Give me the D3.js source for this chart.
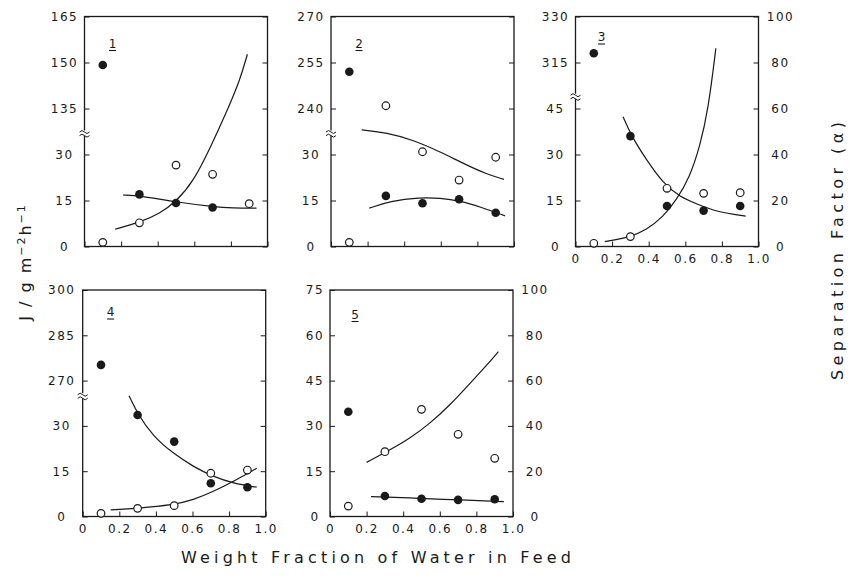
<!DOCTYPE html>
<html lang="en">
  <head>
    <meta charset="utf-8" />
    <title>Flux and separation factor vs. weight fraction of water in feed</title>
    <script src="https://cdn.jsdelivr.net/npm/d3@7"></script>
    <style>
      body {
        margin: 0;
        background: #fff;
      }
      svg {
        display: block;
      }
      .tick-label {
        font-family: "DejaVu Sans", sans-serif;
        font-size: 12px;
        letter-spacing: 1.5px;
        fill: #1a1a1a;
      }
      .title {
        font-family: "DejaVu Sans", sans-serif;
        font-size: 16px;
        fill: #1a1a1a;
      }
    </style>
  </head>
  <body>
    <script>
      var w = 851;
      var h = 582;

      // shared axes
      var xTicks = [0, 0.2, 0.4, 0.6, 0.8, 1.0];
      var waterFraction = [0.1, 0.3, 0.5, 0.7, 0.9];
      var alphaTicks = [0, 20, 40, 60, 80, 100];

      // panel 1 (filled = J, open = separation factor)
      var fluxTicks1 = [0, 15, 30, 135, 150, 165];
      var fluxBreak1 = 37;
      var flux1 = [149.2, 17.0, 14.2, 12.7, null];
      var alpha1 = [1.8, 10.3, 35.4, 31.4, 18.6];
      var fluxCurve1 = [[0.21, 16.8], [0.3, 16.6], [0.5, 14.5], [0.7, 13.0], [0.81, 12.5], [0.94, 12.5]];
      var alphaCurve1 = [[0.167, 7.5], [0.3, 10.4], [0.413, 14.4], [0.5, 19.5], [0.595, 28.2], [0.686, 42.7], [0.777, 58.6], [0.85, 72.4], [0.89, 83.6]];

      // panel 2
      var fluxTicks2 = [0, 15, 30, 240, 255, 270];
      var fluxBreak2 = 37;
      var flux2 = [252, 16.5, 14.1, 15.4, 11.0];
      var alpha2 = [1.8, 61.2, 41.2, 28.9, 38.8];
      var fluxCurve2 = [[0.209, 12.5], [0.322, 14.8], [0.486, 16.0], [0.596, 15.8], [0.705, 14.9], [0.814, 13.0], [0.951, 10.0]];
      var alphaCurve2 = [[0.168, 50.7], [0.304, 49.5], [0.45, 46.3], [0.596, 41.2], [0.741, 35.4], [0.851, 31.5], [0.945, 29.2]];

      // panel 3
      var fluxTicks3 = [0, 15, 30, 45, 315, 330];
      var fluxBreak3 = 49;
      var flux3 = [318, 36.0, 13.2, 11.7, 13.2];
      var alpha3 = [1.4, 4.3, 25.3, 23.1, 23.4];
      var fluxCurve3 = [[0.26, 42.3], [0.306, 36.0], [0.388, 28.2], [0.479, 20.6], [0.57, 16.2], [0.661, 13.9], [0.77, 11.3], [0.93, 9.9]];
      var alphaCurve3 = [[0.16, 2.1], [0.293, 4.0], [0.388, 7.2], [0.479, 13.0], [0.552, 20.2], [0.625, 30.3], [0.679, 43.4], [0.725, 59.3], [0.767, 86.2]];

      // panel 4
      var fluxTicks4 = [0, 15, 30, 270, 285, 300];
      var fluxBreak4 = 40;
      var flux4 = [275.2, 33.6, 24.8, 11.0, 9.7];
      var alpha4 = [1.4, 3.6, 4.8, 19.1, 20.5];
      var fluxCurve4 = [[0.253, 40.0], [0.298, 34.2], [0.386, 26.4], [0.495, 20.9], [0.604, 16.5], [0.714, 13.2], [0.823, 11.0], [0.951, 9.7]];
      var alphaCurve4 = [[0.153, 2.9], [0.298, 3.6], [0.495, 5.1], [0.604, 7.3], [0.714, 11.0], [0.823, 15.4], [0.951, 21.3]];

      // panel 5 (no break)
      var fluxTicks5 = [0, 15, 30, 45, 60, 75];
      var fluxBreak5 = null;
      var flux5 = [34.7, 6.8, 5.9, 5.5, 5.7];
      var alpha5 = [4.6, 28.6, 47.3, 36.3, 25.7];
      var fluxCurve5 = [[0.224, 6.6], [0.5, 6.0], [0.7, 5.5], [0.95, 4.9]];
      var alphaCurve5 = [[0.2, 23.9], [0.328, 29.4], [0.437, 34.5], [0.546, 41.1], [0.656, 49.2], [0.765, 58.8], [0.874, 68.4], [0.92, 72.8]];

      var panelW = 183;

      var panels = [
        { tag: "1", left: 84.5, top: 16.5, height: 230, ticks: fluxTicks1, brk: fluxBreak1, flux: flux1, alpha: alpha1,
          fluxCurve: fluxCurve1, alphaCurve: alphaCurve1, xLabels: false, rightLabels: false, labelX: -20, tagX: 28, tagY: 31 },
        { tag: "2", left: 331, top: 16.5, height: 230, ticks: fluxTicks2, brk: fluxBreak2, flux: flux2, alpha: alpha2,
          fluxCurve: fluxCurve2, alphaCurve: alphaCurve2, xLabels: false, rightLabels: false, labelX: -20, tagX: 28, tagY: 31 },
        { tag: "3", left: 575.5, top: 16.5, height: 230, ticks: fluxTicks3, brk: fluxBreak3, flux: flux3, alpha: alpha3,
          fluxCurve: fluxCurve3, alphaCurve: alphaCurve3, xLabels: true, rightLabels: true, labelX: -20, tagX: 26, tagY: 24.5 },
        { tag: "4", left: 82.7, top: 290, height: 226.5, ticks: fluxTicks4, brk: fluxBreak4, flux: flux4, alpha: alpha4,
          fluxCurve: fluxCurve4, alphaCurve: alphaCurve4, xLabels: true, rightLabels: false, labelX: -21, tagX: 28, tagY: 26 },
        { tag: "5", left: 330, top: 290, height: 226.5, ticks: fluxTicks5, brk: fluxBreak5, flux: flux5, alpha: alpha5,
          fluxCurve: fluxCurve5, alphaCurve: alphaCurve5, xLabels: true, rightLabels: true, labelX: -15, tagX: 25, tagY: 28.5 }
      ];

      var svg = d3.select("body").append("svg").attr("width", w).attr("height", h);
      svg.append("rect").attr("width", w).attr("height", h).attr("fill", "#fff");

      // broken flux axis: equal spacing per tick, gap placed at the break value
      function fluxScale(ticks, brk, ph) {
        var step = ticks[1] - ticks[0];
        var span = step * (ticks.length - 1);
        var maxV = ticks[ticks.length - 1];
        var base = d3.scaleLinear().domain([0, span]).range([ph, 0]);
        if (brk === null) {
          return d3.scaleLinear().domain([0, maxV]).range([ph, 0]);
        }
        var hi = maxV - (span - brk);
        return d3.scaleLinear().domain([0, brk, hi, maxV]).range([ph, base(brk), base(brk), 0]);
      }

      var fmtX = function (d) {
        return d === 0 ? "0" : d3.format(".1f")(d);
      };

      panels.forEach(function (p) {
        var g = svg.append("g").attr("transform", "translate(" + p.left + "," + p.top + ")");
        var x = d3.scaleLinear().domain([0, 1]).range([0, panelW]);
        var yJ = fluxScale(p.ticks, p.brk, p.height);
        var yA = d3.scaleLinear().domain([0, 100]).range([p.height, 0]);

        //left axis
        var gl = g.append("g").attr("color", "#1a1a1a")
          .call(d3.axisLeft(yJ).tickValues(p.ticks).tickSize(-5).tickSizeOuter(0));
        gl.select(".domain").remove();
        gl.selectAll("text").attr("class", "tick-label").attr("x", p.labelX).attr("text-anchor", "middle");

        //right axis
        var gr = g.append("g").attr("color", "#1a1a1a").attr("transform", "translate(" + panelW + ",0)")
          .call(d3.axisRight(yA).tickValues(alphaTicks).tickSize(-5).tickSizeOuter(0));
        gr.select(".domain").remove();
        if (p.rightLabels) {
          gr.selectAll("text").attr("class", "tick-label").attr("x", 22).attr("text-anchor", "middle");
        } else {
          gr.selectAll("text").remove();
        }

        //bottom axis
        var gb = g.append("g").attr("color", "#1a1a1a").attr("transform", "translate(0," + p.height + ")")
          .call(d3.axisBottom(x).tickValues(xTicks).tickSize(-5).tickSizeOuter(0).tickPadding(8).tickFormat(fmtX));
        gb.select(".domain").remove();
        if (p.xLabels) {
          gb.selectAll("text").attr("class", "tick-label");
        } else {
          gb.selectAll("text").remove();
        }

        //frame
        g.append("rect")
          .attr("width", panelW)
          .attr("height", p.height)
          .attr("fill", "none")
          .attr("stroke", "#1a1a1a")
          .attr("stroke-width", 1.3);

        //axis break mark
        if (p.brk !== null) {
          var yb = yJ(p.brk);
          g.append("rect").attr("x", -2).attr("y", yb - 2.5).attr("width", 4).attr("height", 5).attr("fill", "#fff");
          [-1.8, 1.8].forEach(function (dy) {
            g.append("path")
              .attr("d", "M-5," + (yb + dy + 0.8) + " q2.5,-3 5,0 t5,0")
              .attr("fill", "none")
              .attr("stroke", "#1a1a1a")
              .attr("stroke-width", 1);
          });
        }

        //curves (smoothed through the points)
        var line = function (scale) {
          return d3.line()
            .x(function (d) { return x(d[0]); })
            .y(function (d) { return scale(d[1]); })
            .curve(d3.curveBasis);
        };
        g.append("path").datum(p.fluxCurve).attr("d", line(yJ))
          .attr("fill", "none").attr("stroke", "#1a1a1a").attr("stroke-width", 1.2);
        g.append("path").datum(p.alphaCurve).attr("d", line(yA))
          .attr("fill", "none").attr("stroke", "#1a1a1a").attr("stroke-width", 1.2);

        //open circles
        g.selectAll("circle.open")
          .data(waterFraction.map(function (v, i) { return [v, p.alpha[i]]; }).filter(function (d) { return d[1] !== null; }))
          .enter()
          .append("circle")
          .attr("class", "open")
          .attr("cx", function (d) { return x(d[0]); })
          .attr("cy", function (d) { return yA(d[1]); })
          .attr("r", 3.8)
          .attr("fill", "#fff")
          .attr("stroke", "#1a1a1a")
          .attr("stroke-width", 1.2);

        //filled circles
        g.selectAll("circle.filled")
          .data(waterFraction.map(function (v, i) { return [v, p.flux[i]]; }).filter(function (d) { return d[1] !== null; }))
          .enter()
          .append("circle")
          .attr("class", "filled")
          .attr("cx", function (d) { return x(d[0]); })
          .attr("cy", function (d) { return yJ(d[1]); })
          .attr("r", 4.3)
          .attr("fill", "#1a1a1a");

        //panel number, underlined
        g.append("text").attr("class", "tick-label").attr("x", p.tagX).attr("y", p.tagY)
          .attr("text-anchor", "middle").style("letter-spacing", "0px").text(p.tag);
        g.append("line")
          .attr("x1", p.tagX - 3.5).attr("x2", p.tagX + 3.5)
          .attr("y1", p.tagY + 3).attr("y2", p.tagY + 3)
          .attr("stroke", "#1a1a1a").attr("stroke-width", 1.1);
      });

      //axis titles
      svg.append("text")
        .attr("class", "title")
        .attr("x", 376)
        .attr("y", 563)
        .attr("text-anchor", "middle")
        .attr("textLength", 390)
        .attr("lengthAdjust", "spacing")
        .text("Weight Fraction of Water in Feed");

      svg.append("text")
        .attr("class", "title")
        .attr("transform", "translate(843,251) rotate(-90)")
        .attr("text-anchor", "middle")
        .attr("textLength", 258)
        .attr("lengthAdjust", "spacing")
        .text("Separation Factor (α)");

      var jLabel = svg.append("text")
        .attr("class", "title")
        .attr("transform", "translate(31,262) rotate(-90)")
        .attr("text-anchor", "middle")
        .style("letter-spacing", "2px");
      jLabel.append("tspan").text("J / g m");
      jLabel.append("tspan").attr("dy", -6).style("font-size", "11px").text("−2");
      jLabel.append("tspan").attr("dy", 6).text("h");
      jLabel.append("tspan").attr("dy", -6).style("font-size", "11px").text("−1");
    </script>
  </body>
</html>
